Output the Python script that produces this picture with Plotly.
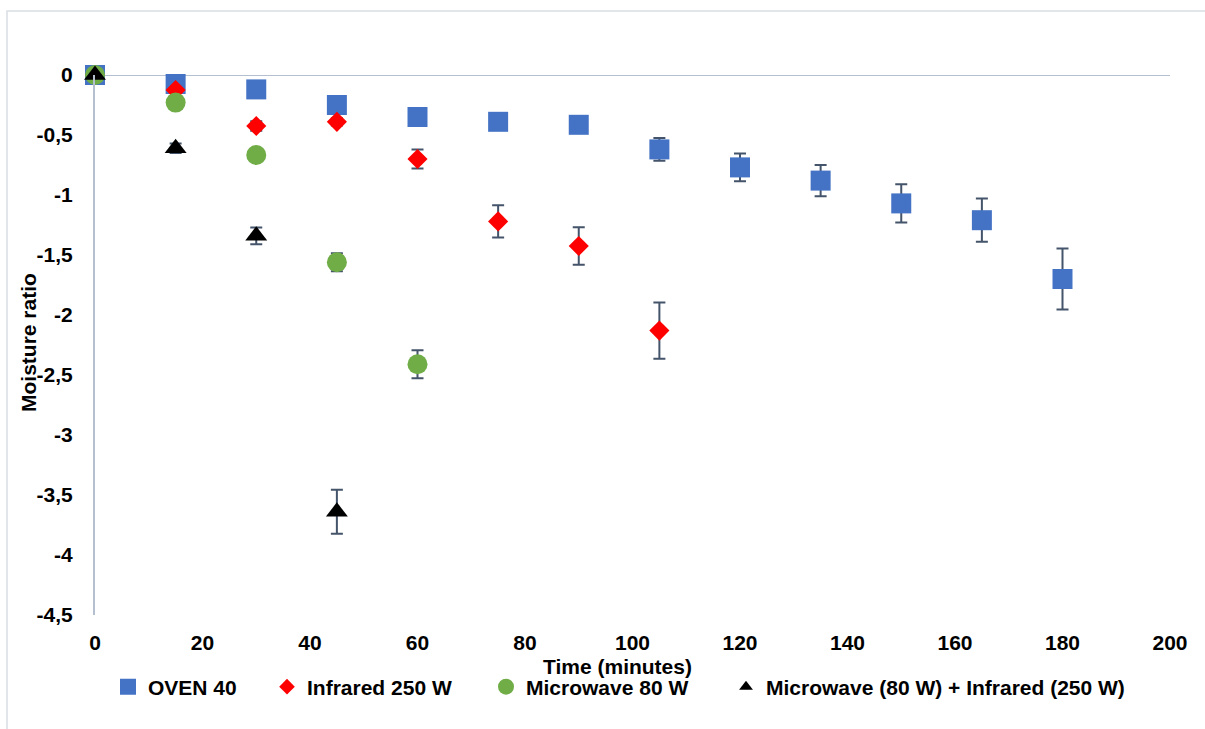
import plotly.graph_objects as go

# --- data -------------------------------------------------------------
oven_time = [0, 15, 30, 45, 60, 75, 90, 105, 120, 135, 150, 165, 180]
oven_mr = [0, -0.075, -0.12, -0.25, -0.35, -0.39, -0.415, -0.62, -0.77, -0.88, -1.07, -1.21, -1.70]
oven_err = [0, 0.02, 0.02, 0.03, 0.03, 0.03, 0.03, 0.095, 0.115, 0.13, 0.16, 0.18, 0.255]

ir_time = [0, 15, 30, 45, 60, 75, 90, 105]
ir_mr = [0, -0.125, -0.425, -0.39, -0.70, -1.22, -1.425, -2.13]
ir_err = [0, 0.02, 0.04, 0.03, 0.08, 0.135, 0.157, 0.235]

mw_time = [0, 15, 30, 45, 60]
mw_mr = [0, -0.23, -0.667, -1.56, -2.41]
mw_err = [0, 0.02, 0.03, 0.075, 0.117]

comb_time = [0, 15, 30, 45]
comb_mr = [0, -0.61, -1.34, -3.64]
comb_err = [0, 0.04, 0.07, 0.183]

x_ticks = [0, 20, 40, 60, 80, 100, 120, 140, 160, 180, 200]
y_ticks = [0, -0.5, -1, -1.5, -2, -2.5, -3, -3.5, -4, -4.5]
y_tick_text = ["0", "-0,5", "-1", "-1,5", "-2", "-2,5", "-3", "-3,5", "-4", "-4,5"]

# --- layout geometry (pixels) ----------------------------------------
W, H = 1205, 729
L, R, T, B = 95, 1170, 75, 615  # plot area edges
FONT = "Liberation Sans"
ERR_COLOR = "#44546A"
AXIS_COLOR = "#B4BFD0"
BOLD = dict(family=FONT, size=21, color="#000000", weight="bold")


def px_x(p):
    return (p - L) / (R - L)


def px_y(p):
    return (B - p) / (B - T)


def err(vals):
    return dict(type="data", array=vals, visible=True, color=ERR_COLOR,
                thickness=2, width=6)


fig = go.Figure()

# name, x, y, error, symbol, colour, size, legend id, legend item sizing
series = [
    ("OVEN 40", oven_time, oven_mr, oven_err, "square", "#4472C4", 20, "legend", "trace"),
    ("Infrared 250 W", ir_time, ir_mr, ir_err, "diamond", "#FF0000", 15.5, "legend2", "constant"),
    ("Microwave 80 W", mw_time, mw_mr, mw_err, "circle", "#70AD47", 20, "legend3", "trace"),
    ("Microwave (80 W) + Infrared (250 W)", comb_time, comb_mr, comb_err,
     "triangle-up", "#000000", 19, "legend4", "constant"),
]

for name, xs, ys, es, sym, col, size, leg, _ in series:
    fig.add_trace(go.Scatter(
        x=xs, y=ys, name=name, mode="markers",
        marker=dict(symbol=sym, color=col, size=size, line=dict(width=0)),
        error_y=err(es), cliponaxis=False, legend=leg,
    ))

# legend entries laid out in a single row below the axis title
legend_left_px = [108, 267, 486, 726]
legend_y = 1 - 687 / H
legends = {}
for s, lx in zip(series, legend_left_px):
    legends[s[7]] = dict(
        x=lx / W, xref="container", xanchor="left",
        y=legend_y, yref="container", yanchor="middle",
        orientation="h", bgcolor="rgba(0,0,0,0)", borderwidth=0,
        itemsizing=s[8], font=BOLD,
    )

fig.update_layout(
    width=W, height=H,
    margin=dict(l=L, r=W - R, t=T, b=H - B, pad=0),
    paper_bgcolor="white", plot_bgcolor="white",
    showlegend=True,
    font=BOLD,
    xaxis=dict(
        range=[0, 200], tickvals=x_ticks, ticks="", showgrid=False,
        zeroline=False, showline=False, ticklabelstandoff=13, tickfont=BOLD,
    ),
    yaxis=dict(
        range=[-4.5, 0], tickvals=y_ticks, ticktext=y_tick_text, ticks="",
        showgrid=False, zeroline=False, showline=True, linecolor=AXIS_COLOR,
        linewidth=2, ticklabelstandoff=16, tickfont=BOLD,
    ),
    **legends,
)

# horizontal axis line crossing at zero
fig.add_shape(type="line", xref="x", yref="y", x0=0, x1=200, y0=0, y1=0,
              line=dict(color=AXIS_COLOR, width=2), layer="below")

# chart frame
fig.add_shape(type="rect", xref="paper", yref="paper",
              x0=px_x(7), x1=px_x(1212), y0=px_y(11), y1=px_y(740),
              line=dict(color="#D9DEE5", width=1.5), layer="below")

# axis titles
fig.add_annotation(text="Time (minutes)", xref="paper", yref="paper",
                   x=px_x(617), y=px_y(666), showarrow=False,
                   xanchor="center", yanchor="middle", font=BOLD)
fig.add_annotation(text="Moisture ratio", xref="paper", yref="paper",
                   x=px_x(28), y=px_y(343), showarrow=False, textangle=-90,
                   xanchor="center", yanchor="middle", font=BOLD)

fig.write_html("out.html")
